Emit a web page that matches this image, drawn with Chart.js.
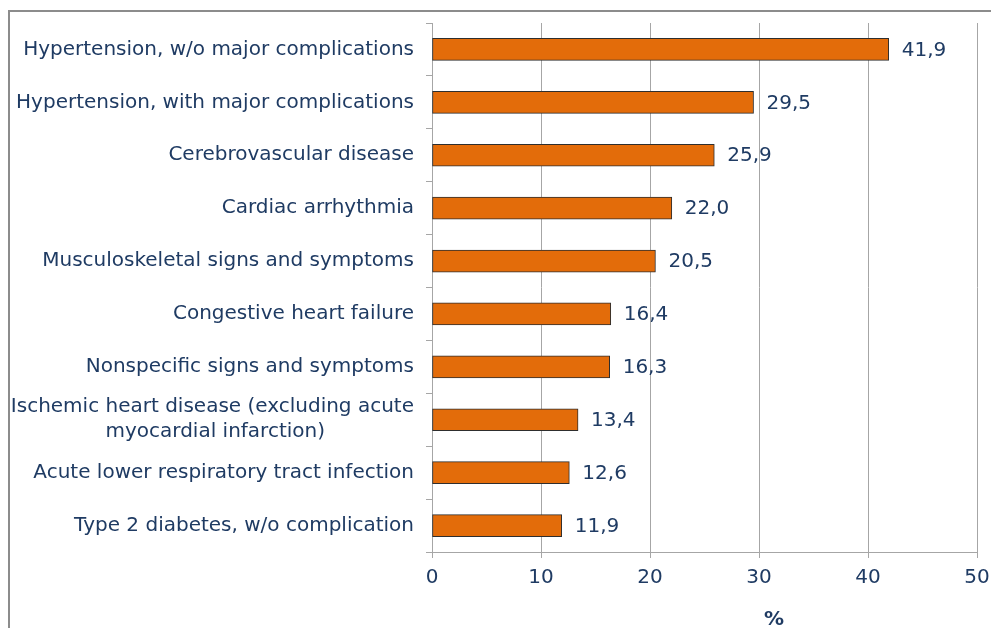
<!DOCTYPE html>
<html>
<head>
<meta charset="utf-8">
<script src="https://cdn.jsdelivr.net/npm/chart.js@4"></script>
<style>
  html, body { margin: 0; padding: 0; background: #fff; overflow: hidden; }
  #wrap { position: relative; width: 991px; height: 628px; overflow: hidden; }
  #frame { position: absolute; left: 8px; top: 10px; width: 1000px; height: 700px;
           border-left: 2px solid #8c8c8c; border-top: 2px solid #8c8c8c; pointer-events: none; }
</style>
</head>
<body>
<div id="wrap">
  <canvas id="c" width="991" height="628"></canvas>
  <div id="frame"></div>
</div>
<script>
const categories = [
  'Hypertension, w/o major complications',
  'Hypertension, with major complications',
  'Cerebrovascular disease',
  'Cardiac arrhythmia',
  'Musculoskeletal signs and symptoms',
  'Congestive heart failure',
  'Nonspecific signs and symptoms',
  ['Ischemic heart disease (excluding acute', 'myocardial infarction)'],
  'Acute lower respiratory tract infection',
  'Type 2 diabetes, w/o complication'
];
const values = [41.9, 29.5, 25.9, 22.0, 20.5, 16.4, 16.3, 13.4, 12.6, 11.9];
const xTicks = [0, 10, 20, 30, 40, 50];
const axisTitle = '%';

const textColor = '#1F3B63';
const fontFamily = '"DejaVu Sans", Verdana, sans-serif';
const fontSize = 20;
const fmt = v => v.toFixed(1).replace('.', ',');

// centre the lines of a multi-line label on each other (right-aligned block)
const measureCtx = document.createElement('canvas').getContext('2d');
function centreLines(lbl) {
  if (!Array.isArray(lbl)) return lbl;
  measureCtx.font = fontSize + 'px ' + fontFamily;
  const widths = lbl.map(s => measureCtx.measureText(s).width);
  const maxW = Math.max(...widths);
  const sp = measureCtx.measureText(' ').width;
  return lbl.map((s, i) => s + ' '.repeat(Math.round((maxW - widths[i]) / 2 / sp)));
}

const valueLabels = {
  id: 'valueLabels',
  afterDatasetsDraw(chart) {
    const ctx = chart.ctx;
    const meta = chart.getDatasetMeta(0);
    ctx.save();
    ctx.font = fontSize + 'px ' + fontFamily;
    ctx.fillStyle = textColor;
    ctx.textAlign = 'left';
    ctx.textBaseline = 'middle';
    meta.data.forEach((bar, i) => {
      ctx.fillText(fmt(values[i]), bar.x + 13, bar.y + 1);
    });
    ctx.restore();
  }
};

new Chart(document.getElementById('c'), {
  type: 'bar',
  data: {
    labels: categories.map(centreLines),
    datasets: [{
      data: values,
      backgroundColor: '#E36C0A',
      borderColor: '#2e2e2e',
      borderWidth: 1,
      borderSkipped: false,
      barThickness: 22
    }]
  },
  options: {
    indexAxis: 'y',
    responsive: false,
    animation: false,
    devicePixelRatio: 1,
    layout: { padding: { left: 0, top: 23, right: 14, bottom: 0 } },
    plugins: { legend: { display: false }, tooltip: { enabled: false } },
    scales: {
      x: {
        min: 0, max: 50,
        afterBuildTicks: s => { s.ticks = xTicks.map(v => ({ value: v })); },
        afterFit: s => { s.height = 76; s.paddingLeft = 0; s.paddingRight = 0; },
        grid: { color: '#a6a6a6', lineWidth: 1, tickLength: 6, drawTicks: true },
        border: { color: '#a6a6a6', width: 1 },
        ticks: { color: textColor, font: { family: fontFamily, size: fontSize }, padding: 8, maxRotation: 0 },
        title: { display: true, text: ' '.repeat(20) + axisTitle, color: textColor,
                 font: { family: fontFamily, size: fontSize, weight: 'bold', lineHeight: 1 },
                 padding: { top: 0, bottom: -2 } }
      },
      y: {
        afterFit: s => { s.width = 432; s.paddingTop = 0; s.paddingBottom = 0; },
        grid: { drawOnChartArea: false, color: '#a6a6a6', tickLength: 6, offset: true },
        border: { color: '#a6a6a6', width: 1 },
        ticks: { color: textColor, font: { family: fontFamily, size: fontSize, lineHeight: 1.25 }, padding: 12, autoSkip: false }
      }
    }
  },
  plugins: [valueLabels]
});
</script>
</body>
</html>
